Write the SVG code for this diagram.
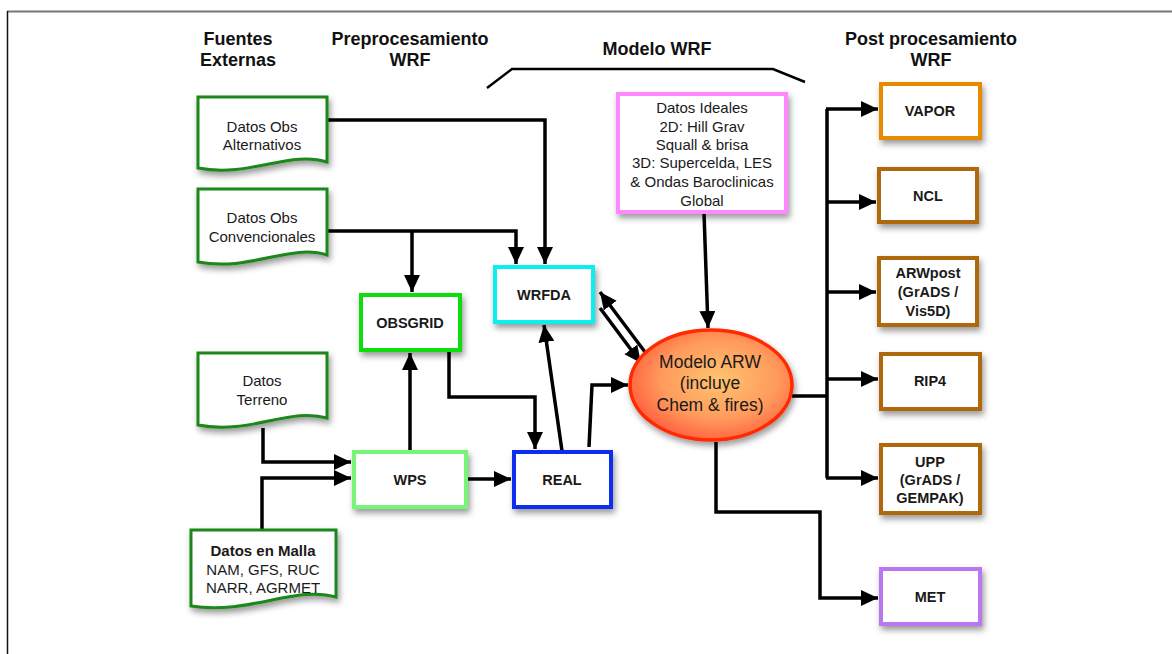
<svg xmlns="http://www.w3.org/2000/svg" width="1172" height="654" viewBox="0 0 1172 654">
<defs>
<style>
text{font-family:"Liberation Sans",Arial,sans-serif;fill:#1a1a1a;text-anchor:middle}
.h{font-size:18px;font-weight:bold;fill:#111}
.t{font-size:15px}
.b{font-size:14.5px;font-weight:bold}
.doc{fill:#fff;stroke:#1a881a;stroke-width:3;filter:url(#sh)}
.box{fill:#fff;stroke-width:4;filter:url(#sh)}
.c{fill:none;stroke:#000;stroke-width:3.5;stroke-linejoin:miter}
.a{marker-end:url(#ar)}
</style>
<filter id="sh" x="-20%" y="-20%" width="150%" height="160%">
<feDropShadow dx="2" dy="4" stdDeviation="3" flood-color="#000" flood-opacity="0.4"/>
</filter>
<marker id="ar" markerUnits="userSpaceOnUse" markerWidth="20" markerHeight="18" refX="17" refY="8" orient="auto">
<path d="M0,0 L17,8 L0,16 Z" fill="#000"/>
</marker>
<radialGradient id="eg" cx="55%" cy="45%" r="60%">
<stop offset="0" stop-color="#ffc470"/>
<stop offset="0.6" stop-color="#ff9a5c"/>
<stop offset="1" stop-color="#ff5a3c"/>
</radialGradient>
</defs>
<rect width="1172" height="654" fill="#fff"/>
<g id="frame">
<line x1="7" y1="11.5" x2="1172" y2="11.5" stroke="#777" stroke-width="2"/>
<line x1="7.5" y1="11" x2="7.5" y2="654" stroke="#111" stroke-width="1.5"/>
</g>
<g id="headers">
<text class="h" x="238" y="45">Fuentes</text>
<text class="h" x="238" y="66">Externas</text>
<text class="h" x="410" y="45">Preprocesamiento</text>
<text class="h" x="410" y="66">WRF</text>
<text class="h" x="657" y="55">Modelo WRF</text>
<text class="h" x="931" y="45">Post procesamiento</text>
<text class="h" x="931" y="66">WRF</text>
<polyline points="487,88 512,69 773,69 805,82" fill="none" stroke="#000" stroke-width="2.5"/>
</g>
<g id="connectors">
<path class="c a" d="M327,120 H545 V264"/>
<path class="c a" d="M327,231 H516 V264"/>
<path class="c a" d="M412,231 V292"/>
<path class="c a" d="M263,428 V462 H351"/>
<path class="c a" d="M262,530 V478 H351"/>
<path class="c a" d="M410,451 V353"/>
<path class="c a" d="M467,479 H511"/>
<path class="c a" d="M449,351 V397 H535 V449"/>
<path class="c a" d="M562,451 L544,325"/>
<path class="c a" d="M589,447 L592,385 H628"/>
<path class="c a" d="M645,352 L600,292"/>
<path class="c a" d="M600,308 L641,363"/>
<path class="c a" d="M704,213 L708,328"/>
<path class="c" d="M792,396 H827 M827,109 V478"/>
<path class="c a" d="M826,109 H878"/>
<path class="c a" d="M827,202 H876"/>
<path class="c a" d="M827,292 H876"/>
<path class="c a" d="M827,379 H878"/>
<path class="c a" d="M826,478 H878"/>
<path class="c a" d="M716,442 V512 H820 V598 H878"/>
</g>
<g id="alternativos">
<path class="doc" d="M198,97 H327 V162 C290,150 250,178 198,168 Z"/>
<text class="t" x="262" y="132">Datos Obs</text>
<text class="t" x="262" y="150">Alternativos</text>
</g>
<g id="convencionales">
<path class="doc" d="M198,189 H327 V255 C290,243 250,272 198,262 Z"/>
<text class="t" x="262" y="223">Datos Obs</text>
<text class="t" x="262" y="242">Convencionales</text>
</g>
<g id="terreno">
<path class="doc" d="M198,353 H327 V418 C290,407 250,435 198,425 Z"/>
<text class="t" x="262" y="386">Datos</text>
<text class="t" x="262" y="405">Terreno</text>
</g>
<g id="malla">
<path class="doc" d="M191,530 H336 V597 C295,585 250,615 191,606 Z"/>
<text class="t" x="263" y="556" style="font-weight:bold">Datos en Malla</text>
<text class="t" x="263" y="575">NAM, GFS, RUC</text>
<text class="t" x="263" y="593">NARR, AGRMET</text>
</g>
<g id="obsgrid">
<rect class="box" x="361" y="295" width="99" height="55" stroke="#11dd11"/>
<text class="b" x="410" y="328">OBSGRID</text>
</g>
<g id="wps">
<rect class="box" x="354" y="452" width="112" height="55" stroke="#77f577"/>
<text class="b" x="410" y="485">WPS</text>
</g>
<g id="wrfda">
<rect class="box" x="495" y="267" width="98" height="55" stroke="#11eeee"/>
<text class="b" x="544" y="300">WRFDA</text>
</g>
<g id="real">
<rect class="box" x="514" y="452" width="97" height="55" stroke="#0a2ef0"/>
<text class="b" x="562" y="485">REAL</text>
</g>
<g id="ideales">
<rect class="box" x="618" y="94" width="168" height="118" stroke="#ff88ff"/>
<text class="t" x="702" y="113">Datos Ideales</text>
<text class="t" x="702" y="132">2D: Hill Grav</text>
<text class="t" x="702" y="150">Squall &amp; brisa</text>
<text class="t" x="702" y="168">3D: Supercelda, LES</text>
<text class="t" x="702" y="187">&amp; Ondas Baroclinicas</text>
<text class="t" x="702" y="206">Global</text>
</g>
<g id="arw">
<ellipse cx="711" cy="385" rx="81" ry="55" fill="url(#eg)" stroke="#ff2a00" stroke-width="3.5" filter="url(#sh)"/>
<text x="710" y="368" style="font-size:17.5px">Modelo ARW</text>
<text x="710" y="389" style="font-size:17.5px">(incluye</text>
<text x="710" y="411" style="font-size:17.5px">Chem &amp; fires)</text>
</g>
<g id="vapor">
<rect class="box" x="881" y="84" width="99" height="54" stroke="#e68a00"/>
<text class="b" x="930" y="116">VAPOR</text>
</g>
<g id="ncl">
<rect class="box" x="879" y="169" width="98" height="53" stroke="#b0680a"/>
<text class="b" x="928" y="201">NCL</text>
</g>
<g id="arwpost">
<rect class="box" x="879" y="258" width="98" height="67" stroke="#b0680a"/>
<text class="b" x="928" y="278">ARWpost</text>
<text class="b" x="928" y="297">(GrADS /</text>
<text class="b" x="928" y="316">Vis5D)</text>
</g>
<g id="rip4">
<rect class="box" x="881" y="354" width="99" height="55" stroke="#b0680a"/>
<text class="b" x="930" y="386">RIP4</text>
</g>
<g id="upp">
<rect class="box" x="881" y="445" width="99" height="68" stroke="#b0680a"/>
<text class="b" x="930" y="467">UPP</text>
<text class="b" x="930" y="485">(GrADS /</text>
<text class="b" x="930" y="503">GEMPAK)</text>
</g>
<g id="met">
<rect class="box" x="881" y="569" width="99" height="55" stroke="#b878f0"/>
<text class="b" x="930" y="602">MET</text>
</g>
</svg>
